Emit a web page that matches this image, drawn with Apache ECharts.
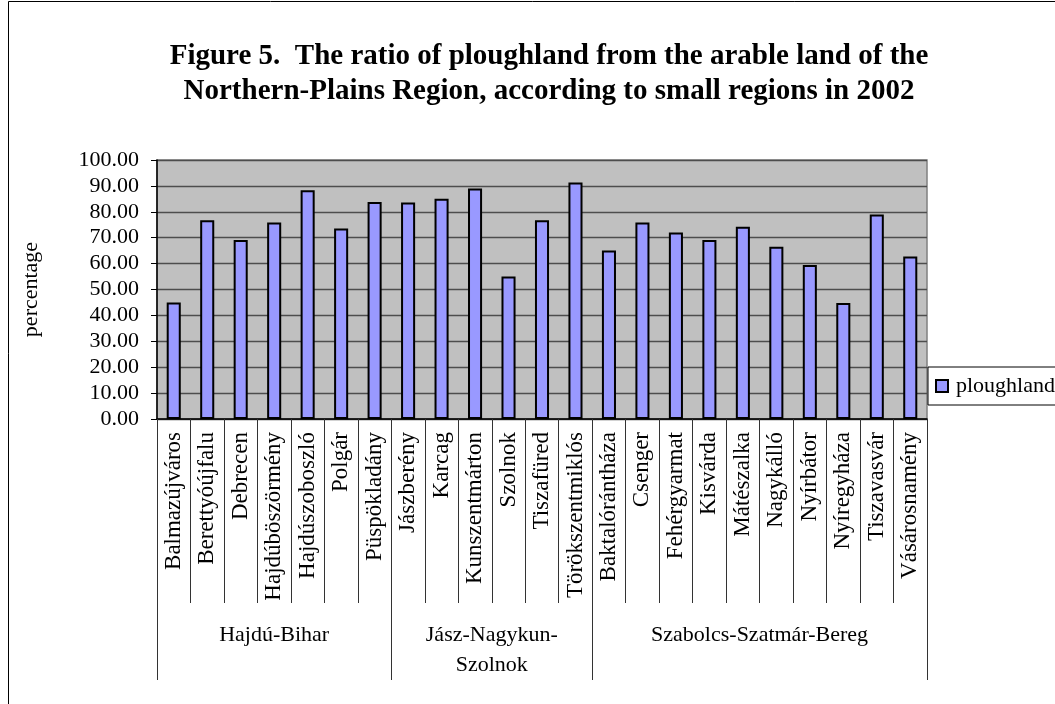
<!DOCTYPE html>
<html>
<head>
<meta charset="utf-8">
<script src="https://cdn.jsdelivr.net/npm/echarts@6/dist/echarts.min.js"></script>
<style>
html, body { margin: 0; padding: 0; background: #fff; }
#chart { width: 1055px; height: 704px; }
</style>
</head>
<body>
<div id="chart"></div>
<script>
var regions = ['Balmazújváros', 'Berettyóújfalu', 'Debrecen', 'Hajdúböszörmény', 'Hajdúszoboszló', 'Polgár', 'Püspökladány',
    'Jászberény', 'Karcag', 'Kunszentmárton', 'Szolnok', 'Tiszafüred', 'Törökszentmiklós',
    'Baktalórántháza', 'Csenger', 'Fehérgyarmat', 'Kisvárda', 'Mátészalka', 'Nagykálló', 'Nyírbátor', 'Nyíregyháza', 'Tiszavasvár', 'Vásárosnamény'];
var ploughland = [45.0, 76.7, 69.1, 75.9, 88.3, 73.6, 83.8,
    83.6, 85.0, 89.0, 55.0, 76.7, 91.3,
    65.1, 75.9, 72.0, 69.1, 74.2, 66.5, 59.5, 44.8, 79.0, 62.7];
var counties = ['Hajdú-Bihar', 'Jász-Nagykun-\nSzolnok', 'Szabolcs-Szatmár-Bereg'];
var countySizes = [7, 6, 10];

var serif = '"Liberation Serif", "DejaVu Serif", serif';

// group spans [first index, last index, name] and boundary indices
var groupSpans = [];
var boundaries = [0];
var start = 0;
for (var i = 0; i < counties.length; i++) {
    groupSpans.push([start, start + countySizes[i] - 1, counties[i]]);
    start += countySizes[i];
    boundaries.push(start);
}

var chart = echarts.init(document.getElementById('chart'));

var option = {
    animation: false,
    title: {
        text: 'Figure 5.  The ratio of ploughland from the arable land of the\nNorthern-Plains Region, according to small regions in 2002',
        left: 544,
        textAlign: 'center',
        top: 34,
        textStyle: { fontFamily: serif, fontWeight: 'bold', fontSize: 29, lineHeight: 35, color: '#000' }
    },
    graphic: [{
        type: 'rect',
        shape: { x: 8.5, y: 1.5, width: 1100, height: 800 },
        style: { fill: null, stroke: '#000', lineWidth: 1 },
        silent: true
    }],
    legend: {
        data: [{ name: 'ploughland', icon: 'rect' }],
        left: 928,
        top: 367,
        padding: [8, 30, 8, 7],
        itemWidth: 12,
        itemHeight: 12,
        borderColor: '#000',
        borderWidth: 1,
        borderRadius: 0,
        backgroundColor: '#fff',
        itemStyle: { borderColor: '#000', borderWidth: 2 },
        textStyle: { fontFamily: serif, fontSize: 22, color: '#000', padding: [0, 0, 0, 3] }
    },
    grid: {
        left: 157,
        top: 160,
        right: 128,
        bottom: 285,
        show: true,
        backgroundColor: '#c0c0c0',
        borderColor: '#808080',
        borderWidth: 1.5
    },
    xAxis: [{
        type: 'category',
        data: regions,
        axisLine: { show: true, lineStyle: { color: '#000', width: 1.5 } },
        axisTick: { show: true, length: 184, lineStyle: { color: '#333' } },
        axisLabel: {
            rotate: 90,
            interval: 0,
            margin: 13,
            fontFamily: serif,
            fontSize: 23,
            color: '#000'
        }
    }, {
        type: 'category',
        data: regions,
        position: 'bottom',
        axisLine: { show: false },
        axisLabel: { show: false },
        axisTick: {
            show: true,
            length: 261,
            interval: function (index) { return boundaries.indexOf(index) >= 0; },
            lineStyle: { color: '#333' }
        }
    }],
    yAxis: {
        type: 'value',
        min: 0,
        max: 100,
        interval: 10,
        name: 'percentage',
        nameLocation: 'middle',
        nameGap: 115,
        nameTextStyle: { fontFamily: serif, fontSize: 22, color: '#000' },
        axisLine: { show: true, lineStyle: { color: '#000', width: 1.5 } },
        axisTick: { show: true, length: 6, lineStyle: { color: '#000' } },
        axisLabel: {
            fontFamily: serif,
            fontSize: 22,
            color: '#000',
            margin: 18,
            formatter: function (v) { return v.toFixed(2); }
        },
        splitLine: { lineStyle: { color: '#4d4d4d', width: 1.3 } }
    },
    series: [{
        name: 'ploughland',
        type: 'bar',
        data: ploughland,
        barWidth: '42%',
        itemStyle: { color: '#9999ff', borderColor: '#000', borderWidth: 2 }
    }, {
        type: 'custom',
        data: groupSpans,
        silent: true,
        renderItem: function (params, api) {
            var a = api.coord([api.value(0), 0]);
            var b = api.coord([api.value(1), 0]);
            return {
                type: 'text',
                x: (a[0] + b[0]) / 2,
                y: a[1] + 201,
                style: {
                    text: groupSpans[params.dataIndex][2],
                    fontFamily: serif,
                    fontSize: 22,
                    lineHeight: 30,
                    fill: '#000',
                    align: 'center',
                    verticalAlign: 'top'
                }
            };
        }
    }]
};

chart.setOption(option);
</script>
</body>
</html>
